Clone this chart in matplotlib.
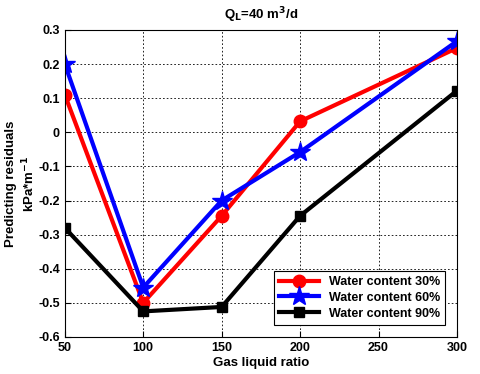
import matplotlib
matplotlib.use("Agg")
import matplotlib.pyplot as plt

plt.rcParams['font.family'] = ['Liberation Sans', 'DejaVu Sans']
plt.rcParams['font.weight'] = 'bold'

glr = [50, 100, 150, 200, 300]
wc30 = [0.11, -0.50, -0.245, 0.032, 0.247]
wc60 = [0.20, -0.455, -0.20, -0.058, 0.267]
wc90 = [-0.28, -0.525, -0.512, -0.245, 0.122]

xticks = [50, 100, 150, 200, 250, 300]
yticks = [0.3, 0.2, 0.1, 0, -0.1, -0.2, -0.3, -0.4, -0.5, -0.6]


def make_graph():
    fig = plt.figure(figsize=(4.8, 3.74), dpi=100)
    ax = fig.add_axes([0.135, 0.099, 0.817, 0.821])

    ax.plot(glr, wc30, '-o', color='red', lw=3, ms=9, mfc='red', mec='red',
            label='Water content 30%')
    ax.plot(glr, wc60, '-*', color='blue', lw=3, ms=15, mfc='blue', mec='blue',
            label='Water content 60%')
    ax.plot(glr, wc90, '-s', color='black', lw=3, ms=7, mfc='black', mec='black',
            label='Water content 90%')

    ax.set_xlim(50, 300)
    ax.set_ylim(-0.6, 0.3)
    ax.set_xticks(xticks)
    ax.set_xticklabels([str(v) for v in xticks])
    ax.set_yticks(yticks)
    ax.set_yticklabels(['0.3', '0.2', '0.1', '0', '-0.1', '-0.2', '-0.3',
                        '-0.4', '-0.5', '-0.6'])
    ax.tick_params(direction='in', length=4, labelsize=9, width=0.8)
    for s in ax.spines.values():
        s.set_linewidth(0.8)
    ax.grid(True, linestyle=(0, (2, 2.5)), color='black', lw=0.6)

    ax.set_title('Q$_\\mathbf{L}$=40 m$^\\mathbf{3}$/d', fontsize=9.5,
                 fontweight='bold', pad=8)
    ax.set_xlabel('Gas liquid ratio', fontsize=9.5, fontweight='bold', labelpad=2)
    ax.set_ylabel('Predicting residuals\nkPa*m$^\\mathbf{-1}$', fontsize=9.5,
                  fontweight='bold', labelpad=1, linespacing=1.2)

    leg = ax.legend(loc='lower right', fontsize=9, fancybox=False,
                    edgecolor='black', framealpha=1, handlelength=3.2,
                    borderpad=0.4, labelspacing=0.3, bbox_to_anchor=(0.985, 0.02))
    leg.get_frame().set_linewidth(0.8)

    fig.savefig('out.png', dpi=100)


if __name__ == "__main__":
    make_graph()
